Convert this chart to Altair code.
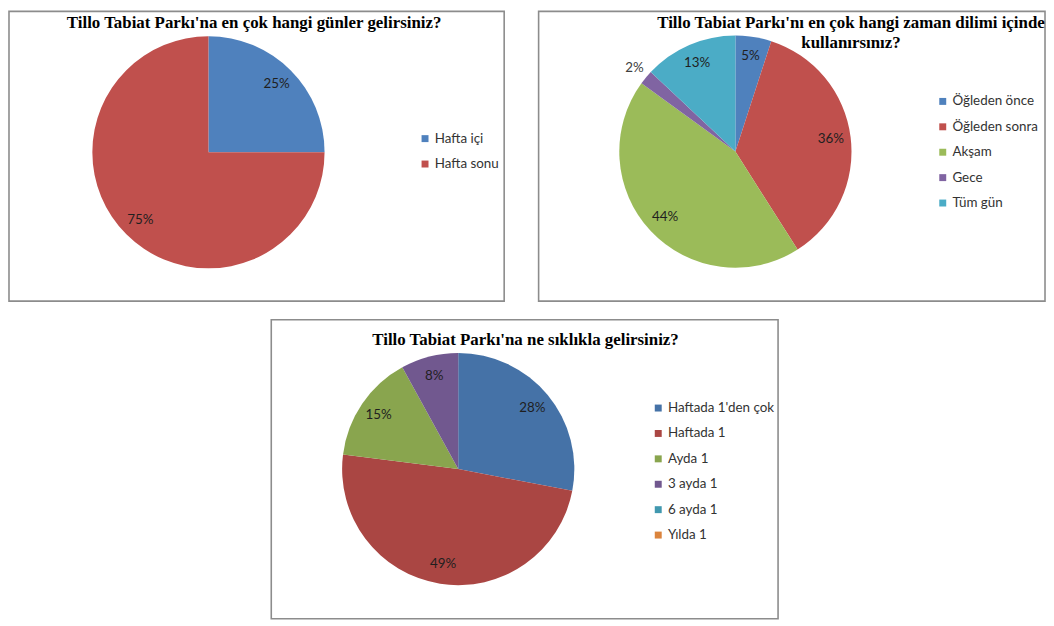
import altair as alt
import pandas as pd

# ---------------- data ----------------
TITLE_1 = "Tillo Tabiat Parkı'na en çok hangi günler gelirsiniz?"
CATS_1 = ["Hafta içi", "Hafta sonu"]
VALS_1 = [25, 75]
COLORS_1 = ["#4F81BD", "#C0504D"]

TITLE_2A = "Tillo Tabiat Parkı'nı en çok hangi zaman dilimi içinde"
TITLE_2B = "kullanırsınız?"
CATS_2 = ["Öğleden önce", "Öğleden sonra", "Akşam", "Gece", "Tüm gün"]
VALS_2 = [5, 36, 44, 2, 13]
COLORS_2 = ["#4F81BD", "#C0504D", "#9BBB59", "#8064A2", "#4BACC6"]

TITLE_3 = "Tillo Tabiat Parkı'na ne sıklıkla gelirsiniz?"
CATS_3 = ["Haftada 1'den çok", "Haftada 1", "Ayda 1", "3 ayda 1", "6 ayda 1", "Yılda 1"]
VALS_3 = [28, 49, 15, 8, 0, 0]
COLORS_3 = ["#4572A7", "#AA4643", "#89A54E", "#71588F", "#4198AF", "#DB843D"]

LABEL_FONT = "Lato"
TITLE_FONT = "Liberation Serif"
R = 117
FS = 13.5


def pie(cats, vals, colors, cx, cy, lx, ly):
    df = pd.DataFrame({"c": cats, "v": vals, "i": list(range(len(cats)))})
    base = alt.Chart(df).encode(
        theta=alt.Theta("v:Q", stack=True),
        order=alt.Order("i:Q"),
        x=alt.value(cx),
        y=alt.value(cy),
    )
    arc = base.mark_arc(outerRadius=R).encode(
        color=alt.Color(
            "c:N",
            scale=alt.Scale(domain=cats, range=colors),
            legend=alt.Legend(
                orient="none", legendX=lx, legendY=ly, title=None,
                symbolType="square", symbolSize=49, symbolStrokeWidth=0,
                labelFont=LABEL_FONT, labelFontSize=FS, labelColor="#333333",
                rowPadding=10.6, padding=0, labelOffset=3,
            ),
        ),
    )
    inner = (
        base.transform_calculate(lab="datum.v >= 3 ? datum.v + '%' : ''")
        .mark_text(font=LABEL_FONT, fontSize=FS, color="#1f1f1f",
                   align="center", baseline="middle", radius=97)
        .encode(text="lab:N", detail="c:N")
    )
    outer = (
        base.transform_calculate(lab="datum.v > 0 && datum.v < 3 ? datum.v + '%' : ''")
        .mark_text(font=LABEL_FONT, fontSize=FS, color="#404040",
                   align="center", baseline="middle", radius=132)
        .encode(text="lab:N", detail="c:N")
    )
    return alt.layer(arc, inner, outer)


def box(x1, y1, x2, y2):
    return alt.Chart(pd.DataFrame({"a": [0]})).mark_rect(
        fill="transparent", stroke="#8c8c8c", strokeWidth=1.6
    ).encode(x=alt.value(x1), x2=alt.value(x2), y=alt.value(y1), y2=alt.value(y2))


def title(t, x, y):
    return alt.Chart(pd.DataFrame({"t": [t]})).mark_text(
        font=TITLE_FONT, fontSize=17, fontWeight="bold", color="#000000",
        align="center", baseline="middle"
    ).encode(text="t:N", x=alt.value(x), y=alt.value(y))


layers = [
    box(1, 1, 500, 293),
    box(534.7, 1, 1045, 293),
    box(265.3, 311.7, 776, 613),
    title(TITLE_1, 248, 13),
    title(TITLE_2A, 849.5, 12.7),
    title(TITLE_2B, 849.5, 32.5),
    title(TITLE_3, 521.5, 332),
    pie(CATS_1, VALS_1, COLORS_1, 202, 143, 413.5, 122.5),
    pie(CATS_2, VALS_2, COLORS_2, 733, 142.3, 935.2, 85),
    pie(CATS_3, VALS_3, COLORS_3, 453.7, 462.2, 648.5, 394),
]

chart = (
    alt.layer(*layers)
    .resolve_scale(color="independent", theta="independent")
    .properties(width=1046, height=618, padding=0, autosize="none")
    .configure_view(strokeWidth=0)
)

chart.save("out.html", embed_options={"renderer": "svg", "actions": False})
